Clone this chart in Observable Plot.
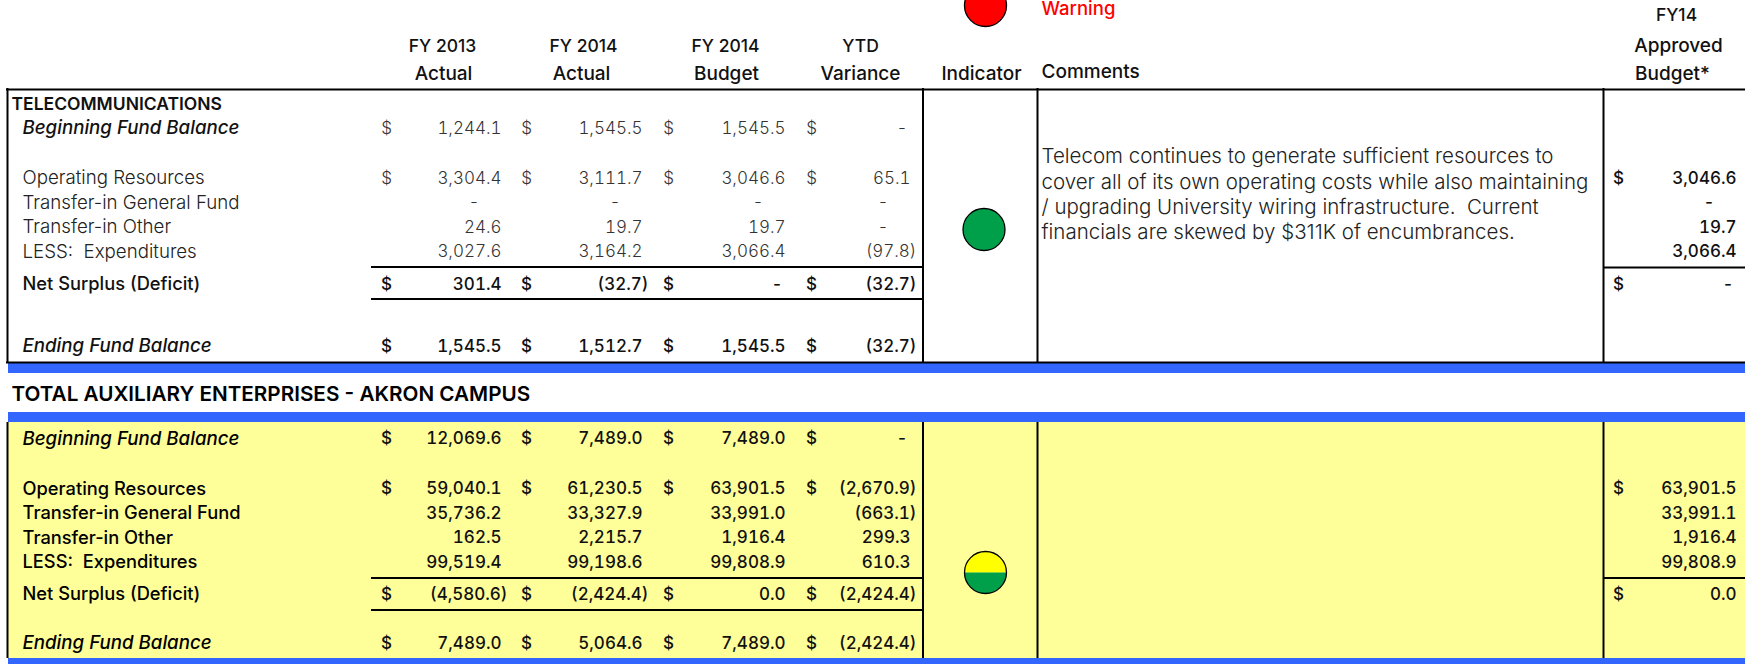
<!DOCTYPE html>
<html><head><meta charset="utf-8">
<script src="https://cdn.jsdelivr.net/npm/d3@7"></script>
<script src="https://cdn.jsdelivr.net/npm/@observablehq/plot@0.6"></script>
<style>html,body{margin:0;padding:0;background:#fff;overflow:hidden}svg{display:block;max-width:none!important}</style>
</head><body><div id="c"></div><script>
// ---- table content ----
const rowLabels = ["Beginning Fund Balance","Operating Resources","Transfer-in General Fund","Transfer-in Other","LESS:  Expenditures","Net Surplus (Deficit)","Ending Fund Balance"];
const telFY13 = ["1,244.1","3,304.4","-","24.6","3,027.6","301.4","1,545.5"];
const telFY14 = ["1,545.5","3,111.7","-","19.7","3,164.2","(32.7)","1,512.7"];
const telBudget = ["1,545.5","3,046.6","-","19.7","3,066.4","-","1,545.5"];
const telVar = ["-","65.1","-","-","(97.8)","(32.7)","(32.7)"];
const telApproved = ["","3,046.6","-","19.7","3,066.4","-",""];
const akrFY13 = ["12,069.6","59,040.1","35,736.2","162.5","99,519.4","(4,580.6)","7,489.0"];
const akrFY14 = ["7,489.0","61,230.5","33,327.9","2,215.7","99,198.6","(2,424.4)","5,064.6"];
const akrBudget = ["7,489.0","63,901.5","33,991.0","1,916.4","99,808.9","0.0","7,489.0"];
const akrVar = ["-","(2,670.9)","(663.1)","299.3","610.3","(2,424.4)","(2,424.4)"];
const akrApproved = ["","63,901.5","33,991.1","1,916.4","99,808.9","0.0",""];
const comments = ["Telecom continues to generate sufficient resources to","cover all of its own operating costs while also maintaining","/ upgrading University wiring infrastructure.  Current","financials are skewed by $311K of encumbrances."];

// ---- page layout (table geometry, not data) ----
const F = "Inter, 'Noto Sans', sans-serif";
const colRight = [501,642,785,910,1736], colDollar = [386,526,668,811,1618];
const telY = [128,178,202.5,227,251.5,284,346], akrY = [438.5,488.5,513,537.5,562,594,643];

function cells(cols, ys, section){
  const out=[];
  cols.forEach((col,c)=>col.forEach((v,r)=>{
    if(v==="") return;
    const withDollar = r===0||r===1||r===5||r===6;
    const paren = v.endsWith(")");
    out.push({v, y:ys[r], r, c, section,
      x: v==="-" ? colRight[c]-(withDollar?3:22) : colRight[c]+(paren?6:0)});
    if(withDollar) out.push({v:"$", y:ys[r], r, c, section, x:colDollar[c], dollar:true});
  }));
  return out;
}
const all = [...cells([telFY13,telFY14,telBudget,telVar,telApproved],telY,"tel"),
             ...cells([akrFY13,akrFY14,akrBudget,akrVar,akrApproved],akrY,"akr")];
const isDark = d => d.section==="akr" || d.c===4 || d.r===5 || d.r===6;
const num = (data,fill,weight)=>[
  Plot.text(data.filter(d=>!d.dollar),{x:"x",y:"y",text:"v",textAnchor:"end",fontSize:17,fontVariant:"tabular-nums",fontFamily:F,fill,fontWeight:weight}),
  Plot.text(data.filter(d=>d.dollar),{x:"x",y:"y",text:"v",textAnchor:"middle",fontSize:17,fontFamily:F,fill,fontWeight:weight})
];
const labelRows = (ys,section)=>rowLabels.map((t,r)=>({t,y:ys[r],r,section}));
const labels=[...labelRows(telY,"tel"),...labelRows(akrY,"akr")];
const lab=(pred,style,weight,fill,size)=>Plot.text(labels.filter(pred),{x:22,y:"y",text:"t",textAnchor:"start",fontSize:size,fontFamily:F,fontStyle:style,fontWeight:weight,fill});
const hdr=(t,x,y,anchor="middle",opts={})=>Plot.text([t],{x,y,text:d=>d,textAnchor:anchor,fontSize:19,fontFamily:F,fontWeight:500,fill:"#111",...opts});
const halfTop={draw(c,s){const r=Math.sqrt(s/Math.PI);c.moveTo(-r,0);c.arc(0,0,r,Math.PI,2*Math.PI);c.closePath();}};
const halfBot={draw(c,s){const r=Math.sqrt(s/Math.PI);c.moveTo(r,0);c.arc(0,0,r,0,Math.PI);c.closePath();}};
const BLUE="#3366ff", YEL="#ffff99";

const chart = Plot.plot({
  width:1745,height:664,margin:0,
  x:{domain:[0,1745],range:[0,1745],axis:null},
  y:{domain:[0,664],range:[0,664],axis:null},
  style:{background:"#fff",overflow:"hidden"},
  marks:[
    Plot.rect([0],{x1:8,x2:1745,y1:422,y2:658,fill:YEL}),
    Plot.rect([0],{x1:8,x2:1745,y1:363,y2:373,fill:BLUE}),
    Plot.rect([0],{x1:8,x2:1745,y1:412,y2:422,fill:BLUE}),
    Plot.rect([0],{x1:8,x2:1745,y1:658,y2:664,fill:BLUE}),
    Plot.ruleY([89,362],{x1:6,x2:1745,stroke:"#000",strokeWidth:2}),
    ...[7,922.5,1037,1603].flatMap(x=>[
      Plot.ruleX([x],{y1:88,y2:362,stroke:"#000",strokeWidth:2}),
      Plot.ruleX([x],{y1:422,y2:658,stroke:"#000",strokeWidth:2})]),
    Plot.ruleY([266.5,298.5,577.5,609.5],{x1:371,x2:922,stroke:"#000",strokeWidth:2}),
    Plot.ruleY([267,577.5],{x1:1603,x2:1745,stroke:"#000",strokeWidth:2}),
    // indicators
    Plot.dot([0],{x:985,y:5,r:21,fill:"#ff0000",stroke:"#000",strokeWidth:1.3}),
    Plot.dot([0],{x:983.5,y:229,r:21,fill:"#00a04a",stroke:"#000",strokeWidth:1.3}),
    Plot.dot([0],{x:985,y:572,r:21,fill:"#ffff00",stroke:"none",symbol:halfTop}),
    Plot.dot([0],{x:985,y:572,r:21,fill:"#00a04a",stroke:"none",symbol:halfBot}),
    Plot.dot([0],{x:985,y:572,r:21,fill:"none",stroke:"#000",strokeWidth:1.3}),
    // headers
    hdr("FY 2013",442,45.5,"middle",{fontSize:17.5}),hdr("Actual",443,73.5),
    hdr("FY 2014",583,45.5,"middle",{fontSize:17.5}),hdr("Actual",581,73.5),
    hdr("FY 2014",725,45.5,"middle",{fontSize:17.5}),hdr("Budget",726,73.5),
    hdr("YTD",860,45.5,"middle",{fontSize:17.5}),hdr("Variance",860,73.5),
    hdr("Indicator",981,73.5),hdr("Comments",1041,71.5,"start"),
    hdr("FY14",1676,14.5,"middle",{fontSize:17.5}),hdr("Approved",1678,45.5),hdr("Budget*",1672,73.5),
    hdr("Warning",1041,9,"start",{fill:"#ff0000",fontSize:18.5}),
    hdr("TELECOMMUNICATIONS",11,103.5,"start",{fontSize:17.5,fontWeight:600}),
    hdr("TOTAL AUXILIARY ENTERPRISES - AKRON CAMPUS",11,394,"start",{fontSize:20.7,fill:"#000",fontWeight:600}),
    // row labels
    lab(d=>d.section==="tel"&&(d.r===0||d.r===6),"italic",500,"#111",18.7),
    lab(d=>d.section==="tel"&&d.r===5,"normal",500,"#111",18.3),
    lab(d=>d.section==="tel"&&[1,2,3,4].includes(d.r),"normal",300,"#222",18.7),
    lab(d=>d.section==="akr"&&(d.r===0||d.r===6),"italic",500,"#000",18.7),
    lab(d=>d.section==="akr"&&![0,6].includes(d.r),"normal",500,"#000",18.3),
    // numbers
    ...num(all.filter(isDark),"#111",500),
    ...num(all.filter(d=>!isDark(d)),"#333",300),
    // comments
    Plot.text(comments,{x:1041,y:(d,i)=>[156,181.5,207,232][i],text:d=>d,textAnchor:"start",fontSize:20.5,fontWeight:300,fontFamily:F,fill:"#222"})
  ]
});
document.getElementById("c").append(chart);
</script></body></html>
